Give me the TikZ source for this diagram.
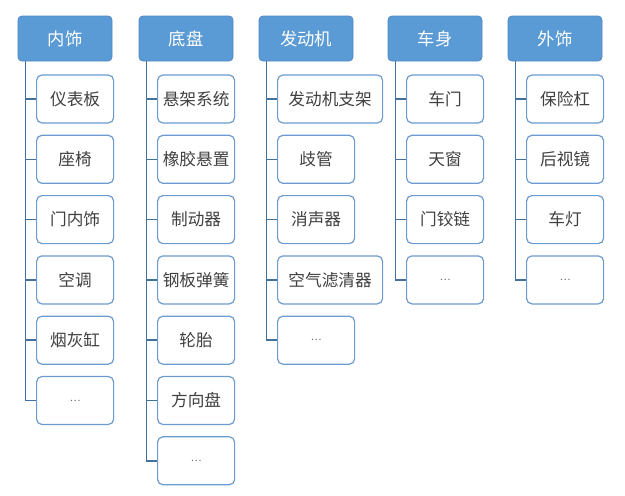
\documentclass[tikz,border=0pt]{standalone}
\usepackage{fontspec}
\setmainfont{Noto Sans CJK SC}
\definecolor{hdrblue}{HTML}{5B9BD5}
\definecolor{hdredge}{HTML}{5089C4}
\definecolor{partedge}{HTML}{6B9BCF}
\definecolor{linkblue}{HTML}{41719C}
\definecolor{parttext}{HTML}{404040}

\newcommand{\moreparts}{{\fontsize{7.5}{8}\selectfont\color{parttext!80}…}}

\tikzset{
  grp/.style={fill=hdrblue, draw=hdredge, line width=0.6pt, rounded corners=3pt,
    minimum width=70.5pt, minimum height=33.75pt, inner sep=0pt, text=white,
    font=\fontsize{13}{15}\selectfont},
  part/.style={fill=white, draw=partedge, line width=0.9pt, rounded corners=4pt,
    minimum height=36pt, inner xsep=3pt, anchor=west, text=parttext,
    font=\fontsize{12.5}{15}\selectfont},
  link/.style={draw=linkblue, line width=1.2pt}
}

\begin{document}
\begin{tikzpicture}[x=0.75pt,y=-0.75pt]
  \useasboundingbox (0,0) rectangle (625,496);
  % headers
  \node[grp] (h1) at (65,38.5) {内饰};
  \node[grp] (h2) at (186,38.5) {底盘};
  \node[grp] (h3) at (306,38.5) {发动机};
  \node[grp] (h4) at (435,38.5) {车身};
  \node[grp] (h5) at (555,38.5) {外饰};
  % parts
  \foreach \p [count=\k] in {仪表板,座椅,门内饰,空调,烟灰缸,\moreparts} {
    \node[part, minimum width=57.75pt] (c1-\k) at (36,38.7+60.3*\k) {\p};
    \draw[link] ([xshift=6pt]h1.south west) |- (c1-\k.west);
  }
  \foreach \p [count=\k] in {悬架系统,橡胶悬置,制动器,钢板弹簧,轮胎,方向盘,\moreparts} {
    \node[part, minimum width=57.75pt] (c2-\k) at (157,38.7+60.3*\k) {\p};
    \draw[link] ([xshift=6pt]h2.south west) |- (c2-\k.west);
  }
  \foreach \p/\w [count=\k] in {发动机支架/78.75,歧管/57.75,消声器/57.75,空气滤清器/78.75,\moreparts/57.75} {
    \node[part, minimum width=\w pt] (c3-\k) at (277,38.7+60.3*\k) {\p};
    \draw[link] ([xshift=6pt]h3.south west) |- (c3-\k.west);
  }
  \foreach \p [count=\k] in {车门,天窗,门铰链,\moreparts} {
    \node[part, minimum width=57.75pt] (c4-\k) at (406,38.7+60.3*\k) {\p};
    \draw[link] ([xshift=6pt]h4.south west) |- (c4-\k.west);
  }
  \foreach \p [count=\k] in {保险杠,后视镜,车灯,\moreparts} {
    \node[part, minimum width=57.75pt] (c5-\k) at (526,38.7+60.3*\k) {\p};
    \draw[link] ([xshift=6pt]h5.south west) |- (c5-\k.west);
  }
\end{tikzpicture}
\end{document}
